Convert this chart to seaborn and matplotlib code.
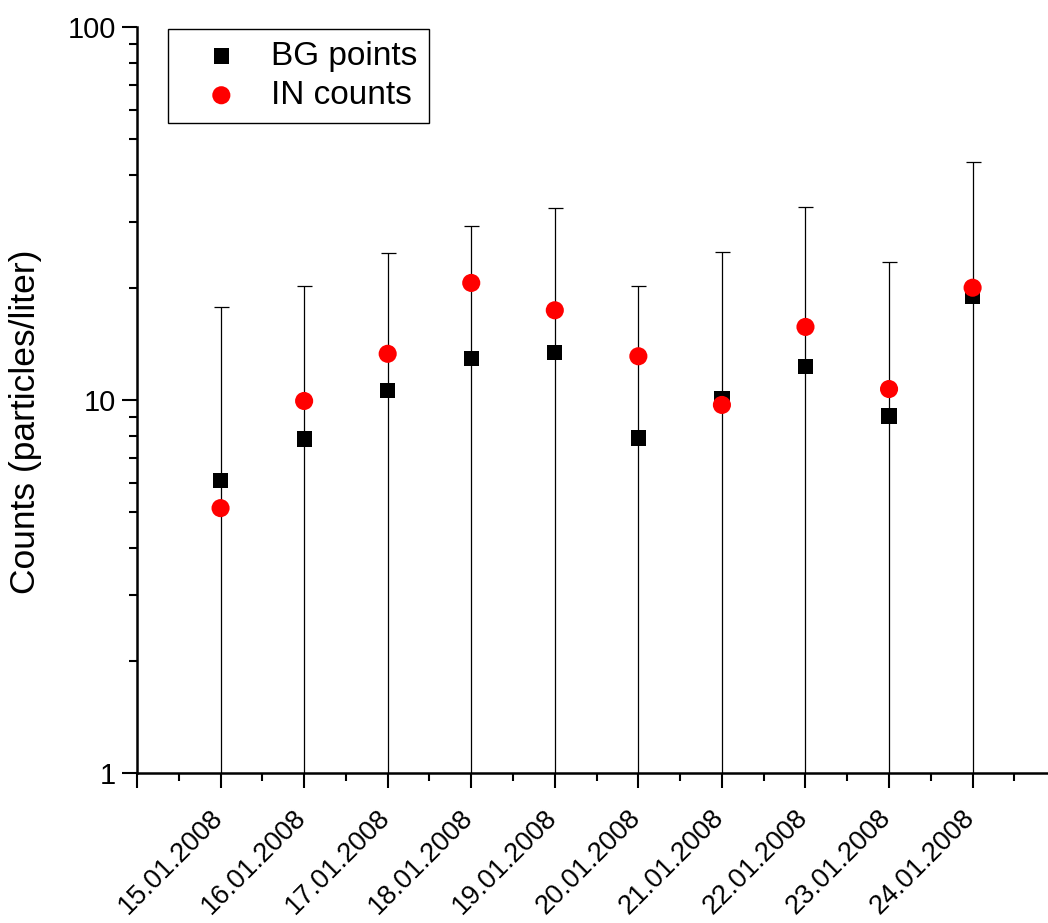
import numpy as np
import pandas as pd
import matplotlib
matplotlib.use("Agg")
import matplotlib.pyplot as plt
import matplotlib.transforms as mtransforms
import seaborn as sns
from matplotlib.ticker import LogLocator, NullFormatter, FixedLocator, MultipleLocator

# Daily measurements
dates = ["15.01.2008", "16.01.2008", "17.01.2008", "18.01.2008", "19.01.2008",
         "20.01.2008", "21.01.2008", "22.01.2008", "23.01.2008", "24.01.2008"]
bg_points = [6.07, 7.86, 10.6, 12.9, 13.4, 7.91, 10.1, 12.3, 9.06, 19.0]
in_counts = [5.13, 9.94, 13.3, 20.6, 17.4, 13.1, 9.70, 15.7, 10.7, 20.0]
bg_upper = [17.8, 20.2, 24.8, 29.3, 32.7, 20.2, 25.0, 32.9, 23.4, 43.4]

sns.set_theme(style="ticks")
plt.rcParams["font.family"] = ["Liberation Sans", "DejaVu Sans"]
for key in ["text.color", "axes.labelcolor", "xtick.color", "ytick.color", "axes.edgecolor"]:
    plt.rcParams[key] = "black"

pos = np.arange(1, len(dates) + 1)
df = pd.DataFrame({"pos": pos, "bg": bg_points, "inc": in_counts, "up": bg_upper})
err = df["up"] - df["bg"]

fig = plt.figure(figsize=(10.48, 9.23), dpi=100)
ax = fig.add_axes([137 / 1048, 1 - 773 / 923, 1 - 137 / 1048, (773 - 27) / 923])

# symmetric uncertainty on the background points; lower ends fall below the axis
ax.errorbar(df["pos"], df["bg"], yerr=err, fmt="none", ecolor="black",
            elinewidth=0.9, capsize=5.4, capthick=0.9, zorder=1)

sns.scatterplot(data=df, x="pos", y="bg", marker="s", s=120, color="black",
                edgecolor="none", ax=ax, label="BG points", zorder=2)
sns.scatterplot(data=df, x="pos", y="inc", marker="o", s=170, color="red",
                edgecolor="none", ax=ax, label="IN counts", zorder=3)

ax.set_yscale("log")
ax.set_ylim(1, 100)
ax.set_xlim(0, (1048 - 137) / 83.56)

ax.xaxis.set_major_locator(FixedLocator(np.arange(0, 11)))
ax.xaxis.set_minor_locator(MultipleLocator(0.5))
ax.set_xticklabels([""] + dates, rotation=45, ha="right", va="top",
                   rotation_mode="anchor", fontsize=19.5)

ax.set_yticks([1, 10, 100])
ax.set_yticklabels(["1", "10", "100"], fontsize=21)
ax.yaxis.set_minor_locator(LogLocator(base=10, subs=np.arange(2, 10), numticks=20))
ax.yaxis.set_minor_formatter(NullFormatter())

ax.tick_params(which="major", direction="out", length=11, width=1.5, pad=4)
ax.tick_params(which="minor", direction="out", length=6, width=1.5)
ax.tick_params(axis="x", which="major", pad=8)

# nudge the slanted date labels so their ends sit just under each tick
shift = mtransforms.ScaledTranslation(-11 / 100, -5 / 100, fig.dpi_scale_trans)
for lbl in ax.get_xticklabels():
    lbl.set_transform(lbl.get_transform() + shift)

for side in ["top", "right"]:
    ax.spines[side].set_visible(False)
for side in ["left", "bottom"]:
    ax.spines[side].set_linewidth(1.8)

ax.set_xlabel("")
ax.set_ylabel("Counts (particles/liter)", fontsize=25.5)
ax.yaxis.set_label_coords(-0.1043, 0.4705)

leg = ax.legend(loc="upper left", bbox_to_anchor=(168 / 1048, 1 - 29 / 923),
                bbox_transform=fig.transFigure, borderaxespad=0, fontsize=24,
                frameon=True, fancybox=False, framealpha=1, edgecolor="black",
                handlelength=2.5, handletextpad=0.25, borderpad=0.35,
                labelspacing=0.25)
leg.get_frame().set_linewidth(1.0)

fig.savefig("out.png", dpi=100, facecolor="white")
